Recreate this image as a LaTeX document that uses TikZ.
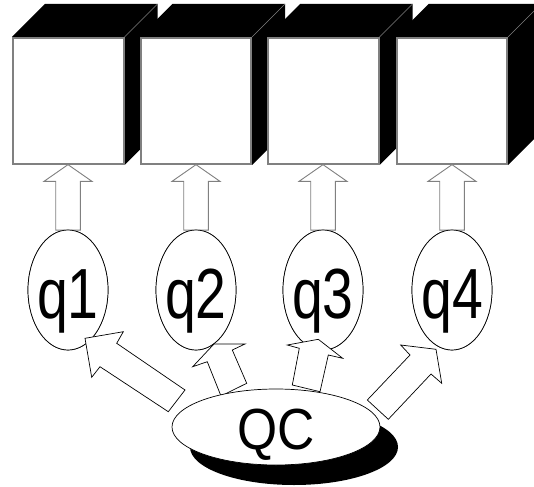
\documentclass[tikz,border=0pt]{standalone}
\usepackage{fontspec}
\setmainfont{Liberation Sans}
\usetikzlibrary{shapes.geometric}
\definecolor{boxgray}{RGB}{128,128,128}
\begin{document}
\begin{tikzpicture}[x=1pt,y=-1pt,
  boxfront/.style={draw=boxgray, fill=white, line width=2pt, minimum width=110.5pt, minimum height=126pt, inner sep=0pt},
  boxside/.style={fill=black},
  sideedge/.style={draw=boxgray, line width=0.5pt},
  blockup/.style={draw=boxgray, fill=white, line width=0.9pt, line join=miter},
  blockdiag/.style={draw=black, fill=white, line width=0.7pt, line join=miter},
  qell/.style={ellipse, draw=black, fill=white, line width=0.7pt, minimum width=80pt, minimum height=120pt, inner sep=0pt},
  qcell/.style={ellipse, draw=black, fill=white, line width=0.7pt, minimum width=208pt, minimum height=76pt, inner sep=0pt},
  shadowell/.style={ellipse, fill=black, minimum width=208pt, minimum height=76pt, inner sep=0pt},
  qlbl/.style={anchor=base, inner sep=0pt, font=\fontsize{71}{71}\selectfont},
  qclbl/.style={anchor=base, inner sep=0pt, font=\fontsize{58}{58}\selectfont}
]
\useasboundingbox (0,0) rectangle (534,486);
\clip (0,0) rectangle (534,486);
% boxes
\foreach \i/\x in {1/12,2/139.5,3/267,4/395.5}{
  \fill[boxside] (\x,37) -- (\x+33,4) -- (\x+145.5,4) -- (\x+145.5,132) -- (\x+112.5,165) -- cycle;
  \draw[sideedge] (\x+112.5,37) -- (\x+145.5,4);
  \node[boxfront] (b\i) at (\x+56.25,101) {};
}
% qubit ellipses
\foreach \i/\cx in {1/68,2/196,3/323,4/452}{
  \node[qell] (q\i) at (\cx,290) {};
  \begin{scope}[shift={(q\i.north)}]
    \draw[blockup] (0,-65) -- (24,-48.3) -- (12.3,-48.3) -- (12.3,0.5) -- (-12.3,0.5) -- (-12.3,-48.3) -- (-24,-48.3) -- cycle;
  \end{scope}
  \node[qell] at (q\i) {};
  \node[qlbl] (q\i t) at (\cx,318) {\scalebox{0.78}[1]{q\i}};
}
% diagonal block arrows from QC
\draw[blockdiag] (85,338.3) -- (123.3,331.7) -- (116.7,343.3) -- (185,390) -- (168.3,411.7) -- (100,366.7) -- (91.7,377.3) -- cycle;
\draw[blockdiag] (214,344) -- (245,344) -- (232.3,350) -- (246.7,383.3) -- (221,396) -- (207.3,361.7) -- (192.7,366.7) -- cycle;
\draw[blockdiag] (318.3,339.3) -- (342.7,358.3) -- (328.3,355) -- (320,391.7) -- (292.3,385) -- (299.3,348.3) -- (287.3,345) -- cycle;
\draw[blockdiag] (436,349.3) -- (441.7,383.3) -- (431,374) -- (388.3,419.3) -- (367.3,400) -- (410,355) -- (400.7,345) -- cycle;
% QC
\node[shadowell] (qcs) at (294,447) {};
\node[qcell] (qc) at (276,427) {};
\node[qclbl] (qct) at (276,449) {\scalebox{0.89}[1]{QC}};
\end{tikzpicture}
\end{document}
